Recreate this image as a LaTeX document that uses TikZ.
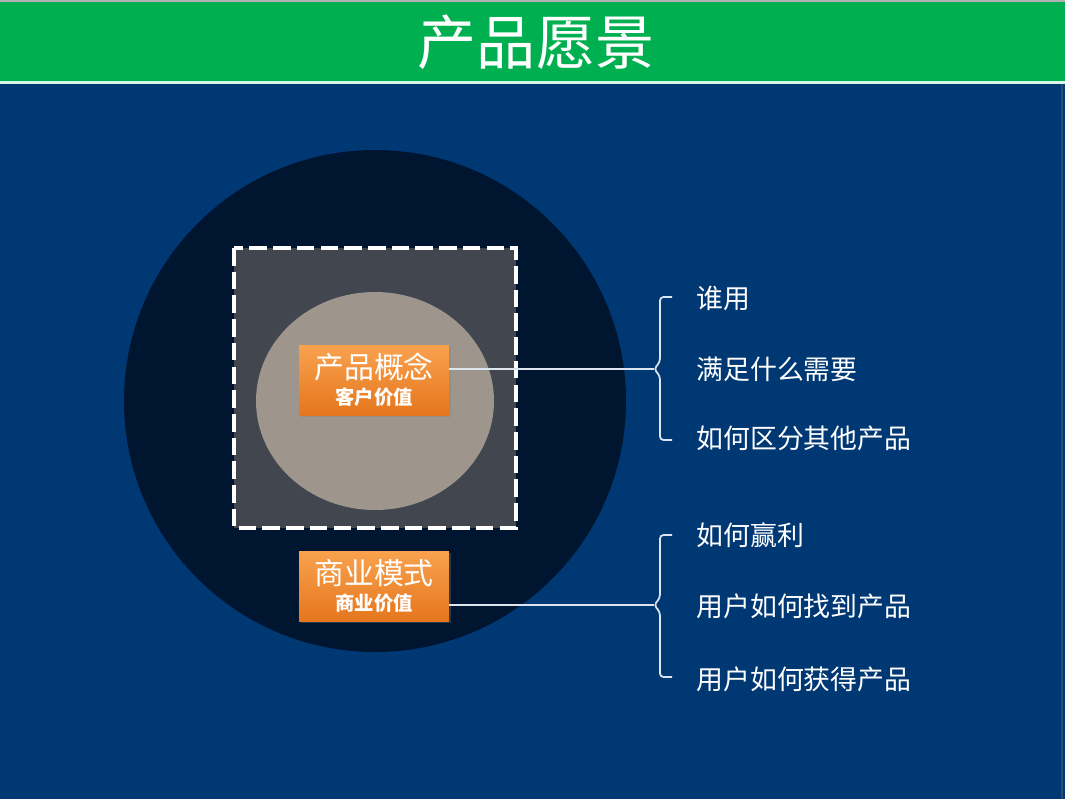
\documentclass[tikz,border=0pt]{standalone}
\usepackage{fontspec}
\setmainfont{Noto Sans CJK SC}
\usetikzlibrary{positioning,shadows}

\definecolor{bgblue}{HTML}{003874}
\definecolor{bargreen}{HTML}{00B050}
\definecolor{barline}{HTML}{D8F6EA}
\definecolor{deepnavy}{HTML}{001530}
\definecolor{boxgray}{HTML}{41464F}
\definecolor{warmgray}{HTML}{9E968D}
\definecolor{orangetop}{HTML}{F9A24E}
\definecolor{orangebot}{HTML}{E5761E}
\definecolor{linkgray}{HTML}{DCE4EE}

\tikzset{
	conceptbox/.style = {rectangle, top color=orangetop, bottom color=orangebot,
		minimum width=3cm, minimum height=1.4cm, align=center, text=white,
		inner sep=0pt, drop shadow={opacity=0.35, shadow xshift=1pt, shadow yshift=-1.2pt}},
	itemtext/.style = {anchor=west, text=white, font=\fontsize{15.3}{18}\selectfont, inner sep=0pt},
	link/.style = {draw=linkgray, line width=0.8pt},
	brace/.style = {draw=linkgray, line width=1pt, rounded corners=2pt}
}

\begin{document}
\begin{tikzpicture}[x=0.02cm, y=-0.02cm]
	\useasboundingbox (0,0) rectangle (1065,799);
	% background and title bar
	\fill[bgblue] (0,0) rectangle (1065,799);
	\fill[bargreen] (0,0) rectangle (1065,81);
	\fill[gray!60] (0,0) rectangle (1065,2);
	\fill[barline] (0,81) rectangle (1065,84);
	\fill[bgblue!70!gray] (1061,84) rectangle (1063,799);
	\node[text=white, font=\fontsize{33.6}{36}\selectfont] (title) at (536,42) {产品愿景};

	% circles and dashed frame
	\fill[deepnavy] (375,401) circle [radius=251];
	\fill[boxgray] (234,248) rectangle (516,528);
	\draw[white, line width=2.3pt, dash pattern=on 10pt off 3.5pt] (234,248) rectangle (516,528);
	\fill[warmgray] (375,401) ellipse [x radius=119, y radius=109];

	% the two concept boxes
	\node[conceptbox] (concept) at (374,380)
		{{\fontsize{17}{19}\selectfont 产品概念}\\[3pt]{\fontsize{11}{13}\selectfont\bfseries 客户价值}};
	\node[conceptbox] (model) at (374,586)
		{{\fontsize{17}{19}\selectfont 商业模式}\\[3pt]{\fontsize{11}{13}\selectfont\bfseries 商业价值}};

	% items on the right
	\node[itemtext] (who) at (696,298) {谁用};
	\node[itemtext] (need) at (696,369) {满足什么需要};
	\node[itemtext] (differ) at (696,438) {如何区分其他产品};
	\node[itemtext] (profit) at (696,535) {如何赢利};
	\node[itemtext] (find) at (696,606) {用户如何找到产品};
	\node[itemtext] (obtain) at (696,679) {用户如何获得产品};

	% braces and links
	\coordinate (tipA) at (654,369);
	\coordinate (tipB) at (654,605);
	\draw[brace] (672,297) -- (660,297) -- (660,362) -- (tipA) -- (660,376) -- (660,440) -- (672,440);
	\draw[brace] (672,535) -- (660,535) -- (660,598) -- (tipB) -- (660,612) -- (660,677) -- (672,677);
	\draw[link] (tipA -| concept.east) -- (tipA);
	\draw[link] (tipB -| model.east) -- (tipB);
\end{tikzpicture}
\end{document}
